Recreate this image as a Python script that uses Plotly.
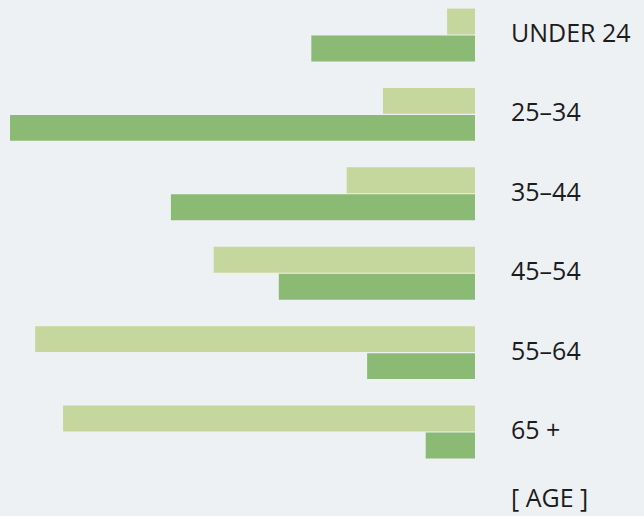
import plotly.graph_objects as go

categories = ["UNDER 24", "25–34", "35–44", "45–54", "55–64", "65 +"]
light_values = [3.0, 9.9, 13.8, 28.1, 47.3, 44.3]
dark_values = [17.6, 50.0, 32.7, 21.1, 11.6, 5.3]
axis_label = "[ AGE ]"

LIGHT = "#C6D79D"
DARK = "#8ABA73"
BG = "#EDF1F3"
FONT = dict(family="Open Sans", size=25, color="#1c1c1c")

fig = go.Figure()
fig.add_trace(go.Bar(y=categories, x=light_values, orientation="h",
                     marker=dict(color=LIGHT, line=dict(width=0)), name="a"))
fig.add_trace(go.Bar(y=categories, x=dark_values, orientation="h",
                     marker=dict(color=DARK, line=dict(width=0)), name="b"))

annotations = []
for c in categories:
    annotations.append(dict(x=509 / 475, xref="paper", y=c, yref="y", yshift=3,
                            text=c, showarrow=False, xanchor="left", yanchor="middle",
                            font=FONT))
annotations.append(dict(x=509 / 475, xref="paper", y=0, yref="paper",
                        text=axis_label, showarrow=False, xanchor="left", yanchor="bottom",
                        font=FONT))

fig.update_layout(
    width=644, height=516,
    margin=dict(l=0, r=169, t=0, b=0),
    paper_bgcolor=BG, plot_bgcolor=BG,
    barmode="group", bargap=0.32, bargroupgap=0.04,
    showlegend=False,
    xaxis=dict(range=[51.08, 0], visible=False, showgrid=False, zeroline=False),
    yaxis=dict(type="category", categoryorder="array", categoryarray=categories,
               range=[6.058, -0.441], visible=False, showgrid=False, zeroline=False),
    annotations=annotations,
)

fig.write_html("out.html", config={"displayModeBar": False},
               post_script="document.body.style.margin='0';document.body.style.background='" + BG + "';")
